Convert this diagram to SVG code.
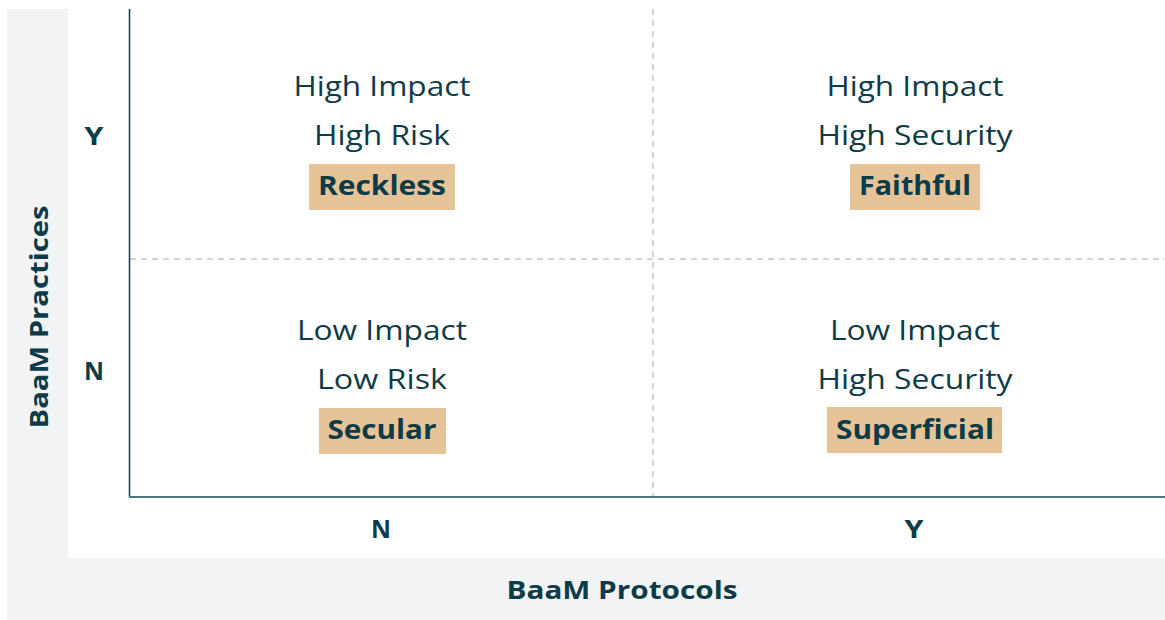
<svg xmlns="http://www.w3.org/2000/svg" width="1165" height="620" viewBox="0 0 1165 620">
  <style>
    .lbl { font-family: "Open Sans", "Noto Sans", sans-serif; font-size: 27px; fill: #0d3b47; text-anchor: middle; }
    .tag { font-family: "Open Sans", "Noto Sans", sans-serif; font-size: 26px; font-weight: 700; fill: #0d3b47; text-anchor: middle; }
    .axis { font-family: "Open Sans", "Noto Sans", sans-serif; font-size: 25px; font-weight: 700; fill: #0d3b47; text-anchor: middle; }
    .box { fill: #e6c497; }
    .grid { stroke: #c3c7cb; stroke-width: 1.5; stroke-dasharray: 6 5; fill: none; }
  </style>

  <!-- backdrop: grey frame with white plotting area -->
  <rect x="7" y="9" width="1158" height="611" fill="#f2f3f5"/>
  <rect x="68" y="9" width="1097" height="549" fill="#ffffff"/>

  <!-- quadrant dividers -->
  <g id="grid">
    <line class="grid" x1="653" y1="9" x2="653" y2="496"/>
    <line class="grid" x1="130" y1="259" x2="1165" y2="259"/>
  </g>

  <!-- axes -->
  <g id="axes">
    <line x1="129.5" y1="9" x2="129.5" y2="497" stroke="#0d3b47" stroke-width="1.5"/>
    <line x1="129" y1="497" x2="1165" y2="497" stroke="#4f7580" stroke-width="2"/>
  </g>

  <!-- axis titles and tick labels -->
  <g id="axis-labels">
    <text class="axis" x="94" y="145" textLength="19" lengthAdjust="spacingAndGlyphs">Y</text>
    <text class="axis" x="94" y="380" textLength="20" lengthAdjust="spacingAndGlyphs">N</text>
    <text class="axis" x="381" y="538" textLength="20" lengthAdjust="spacingAndGlyphs">N</text>
    <text class="axis" x="914" y="538" textLength="19" lengthAdjust="spacingAndGlyphs">Y</text>
    <text class="axis" x="622" y="599" textLength="231" lengthAdjust="spacingAndGlyphs">BaaM Protocols</text>
    <text class="axis" transform="translate(48 317) rotate(-90)" textLength="223" lengthAdjust="spacingAndGlyphs">BaaM Practices</text>
  </g>

  <g id="reckless">
    <text class="lbl" x="382" y="96" textLength="177" lengthAdjust="spacingAndGlyphs">High Impact</text>
    <text class="lbl" x="382" y="145" textLength="136" lengthAdjust="spacingAndGlyphs">High Risk</text>
    <rect class="box" x="309" y="164" width="146" height="46"/>
    <text class="tag" x="382" y="195" textLength="128" lengthAdjust="spacingAndGlyphs">Reckless</text>
  </g>

  <g id="faithful">
    <text class="lbl" x="915" y="96" textLength="177" lengthAdjust="spacingAndGlyphs">High Impact</text>
    <text class="lbl" x="915" y="145" textLength="195" lengthAdjust="spacingAndGlyphs">High Security</text>
    <rect class="box" x="850" y="164" width="130" height="46"/>
    <text class="tag" x="915" y="195" textLength="112" lengthAdjust="spacingAndGlyphs">Faithful</text>
  </g>

  <g id="secular">
    <text class="lbl" x="382" y="340" textLength="170" lengthAdjust="spacingAndGlyphs">Low Impact</text>
    <text class="lbl" x="382" y="389" textLength="130" lengthAdjust="spacingAndGlyphs">Low Risk</text>
    <rect class="box" x="319" y="408" width="127" height="46"/>
    <text class="tag" x="382" y="439" textLength="109" lengthAdjust="spacingAndGlyphs">Secular</text>
  </g>

  <g id="superficial">
    <text class="lbl" x="915" y="340" textLength="170" lengthAdjust="spacingAndGlyphs">Low Impact</text>
    <text class="lbl" x="915" y="389" textLength="195" lengthAdjust="spacingAndGlyphs">High Security</text>
    <rect class="box" x="827" y="407" width="175" height="46"/>
    <text class="tag" x="915" y="439" textLength="158" lengthAdjust="spacingAndGlyphs">Superficial</text>
  </g>
</svg>
